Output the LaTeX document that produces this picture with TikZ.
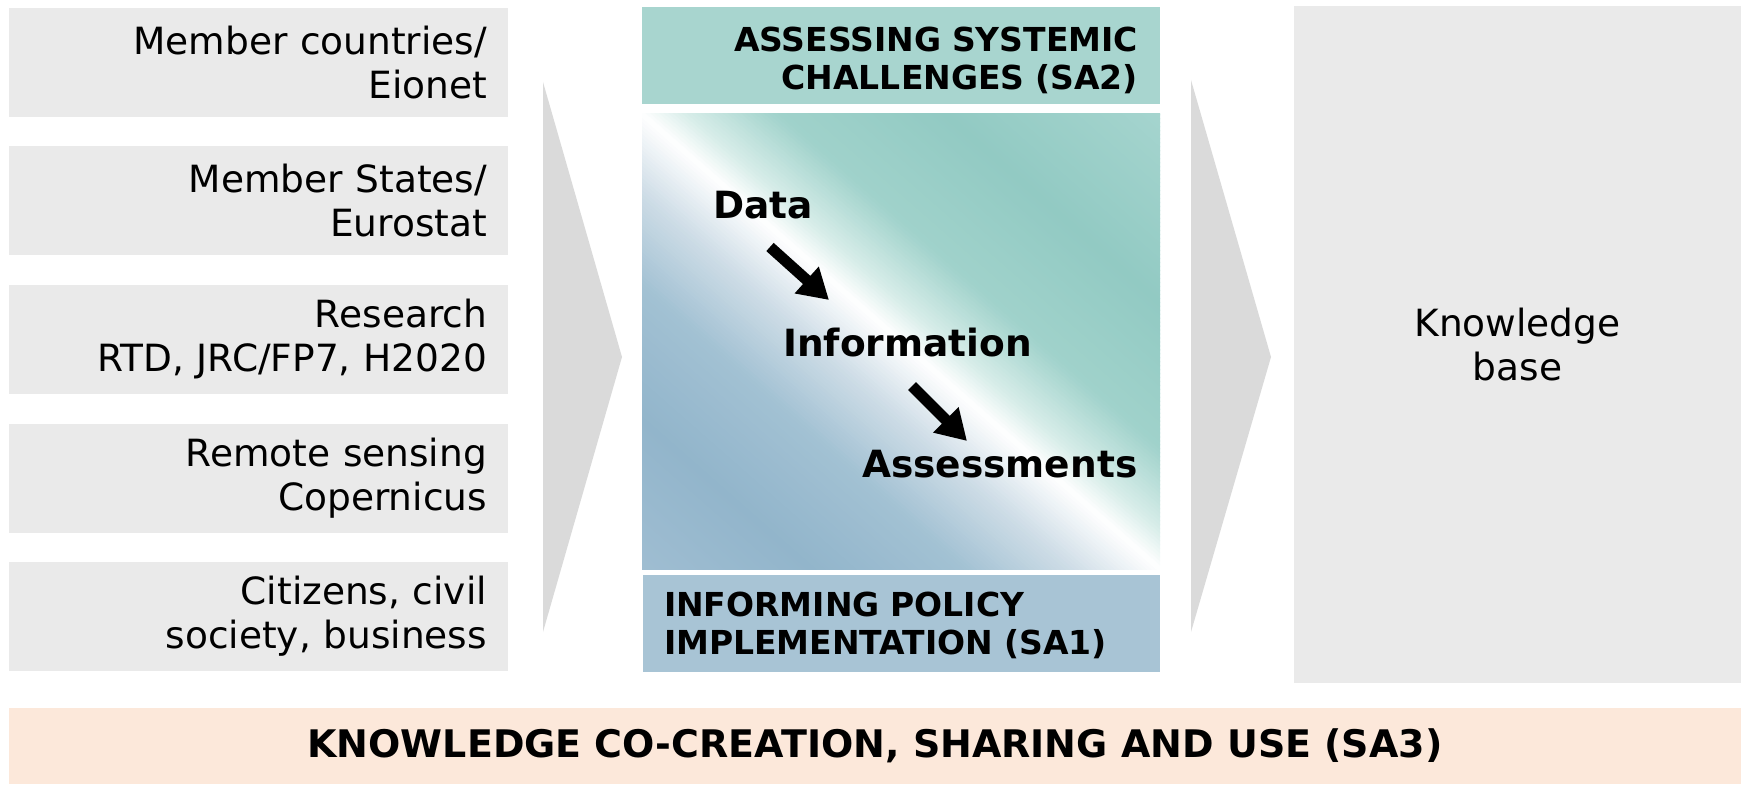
\documentclass[tikz,border=0pt]{standalone}
\usepackage{fontspec}
\setmainfont{DejaVu Sans}
\usetikzlibrary{arrows.meta}
\definecolor{boxgrey}{HTML}{EAEAEA}
\definecolor{chevgrey}{HTML}{DADADA}
\definecolor{satwo}{HTML}{A8D5CF}
\definecolor{saone}{HTML}{A8C4D5}
\definecolor{bannercol}{HTML}{FCE8DA}
\definecolor{gbA}{RGB}{160,190,210}
\definecolor{gbB}{RGB}{146,181,203}
\definecolor{gbC}{RGB}{162,193,211}
\definecolor{gbD}{RGB}{205,220,230}
\definecolor{gW}{RGB}{255,255,255}
\definecolor{gtD}{RGB}{215,237,233}
\definecolor{gtC}{RGB}{160,210,203}
\definecolor{gtB}{RGB}{146,202,195}
\definecolor{gtA}{RGB}{166,213,207}
\tikzset{
  srcbox/.style={fill=boxgrey, text width=457pt, align=right, inner xsep=21pt, inner ysep=0pt,
    minimum height=109pt, font=\fontsize{37.5}{44}\selectfont},
  headbox/.style={inner ysep=0pt, minimum height=97pt, font=\bfseries\fontsize{33}{38}\selectfont},
  flowtxt/.style={inner sep=0pt, font=\bfseries\fontsize{37.5}{44}\selectfont},
  bigarrow/.style={draw=black, line width=11pt, -{Triangle[length=30pt,width=34pt]}},
  chevron/.style={fill=chevgrey}
}
\begin{document}
\begin{tikzpicture}[x=1pt,y=-1pt]
\useasboundingbox (0,0) rectangle (1748,786);
% source boxes
\node[srcbox] (s1) at (258.5,62.5) {Member countries/\\Eionet};
\node[srcbox] (s2) at (258.5,201) {Member States/\\Eurostat};
\node[srcbox] (s3) at (258.5,339.5) {Research\\RTD, JRC/FP7, H2020};
\node[srcbox] (s4) at (258.5,478) {Remote sensing\\Copernicus};
\node[srcbox] (s5) at (258.5,616.5) {Citizens, civil\\society, business};
% chevrons
\fill[chevron] (543,82) -- (622,357) -- (543,632) -- cycle;
\fill[chevron] (1191,80) -- (1271,357) -- (1191,632) -- cycle;
% gradient panel
\begin{scope}
\clip (642,114) rectangle (1160,569);
\begin{scope}[shift={(901,341.5)}, rotate=-41.3]
\foreach \da/\db/\ca/\cb in {-350/-230/gbA/gbB, -230/-130/gbB/gbC, -130/-60/gbC/gbD, -60/0/gbD/gW,
  0/30/gW/gtD, 30/90/gtD/gtC, 90/200/gtC/gtB, 200/350/gtB/gtA} {
  \pgfmathsetmacro\nn{int(ceil((\db-\da)/3))}
  \foreach \k in {1,...,\nn} {
    \pgfmathsetmacro\ta{\da+(\k-1)*(\db-\da)/\nn}
    \pgfmathsetmacro\tb{\da+\k*(\db-\da)/\nn+0.8}
    \pgfmathsetmacro\pp{int(round(100*(1-(\k-0.5)/\nn)))}
    \fill[\ca!\pp!\cb] (-470,-\ta) rectangle (470,-\tb);
  }
}
\end{scope}
\end{scope}
% headings
\fill[satwo] (642,7) rectangle (1160,104);
\node[headbox, text width=474pt, inner xsep=22pt, align=right] (sa2) at (901,60)
  {ASSESSING SYSTEMIC\\CHALLENGES (SA2)};
\fill[saone] (643,575) rectangle (1160,672);
\node[headbox, text width=475pt, inner xsep=21pt, align=left] (sa1) at (901.5,625)
  {INFORMING POLICY\\IMPLEMENTATION (SA1)};
% flow
\node[flowtxt, anchor=base west] (data) at (713,219) {Data};
\node[flowtxt, anchor=base west] (info) at (783,356) {Information};
\node[flowtxt, anchor=base west] (assess) at (862,477) {Assessments};
\coordinate (a1s) at (770,247);
\coordinate (a1e) at (829,300);
\coordinate (a2s) at (912,386);
\coordinate (a2e) at (967,441);
\draw[bigarrow] (a1s) -- (a1e);
\draw[bigarrow] (a2s) -- (a2e);
% knowledge base
\node[fill=boxgrey, minimum width=447pt, minimum height=677pt, inner sep=0pt, align=center,
  font=\fontsize{37.5}{44}\selectfont] (kb) at (1517.5,344.5) {Knowledge\\base};
% banner
\node[fill=bannercol, minimum width=1732pt, minimum height=76pt, inner sep=0pt,
  font=\bfseries\fontsize{38}{44}\selectfont] (sa3) at (875,746)
  {KNOWLEDGE CO-CREATION, SHARING AND USE (SA3)};
\end{tikzpicture}
\end{document}
